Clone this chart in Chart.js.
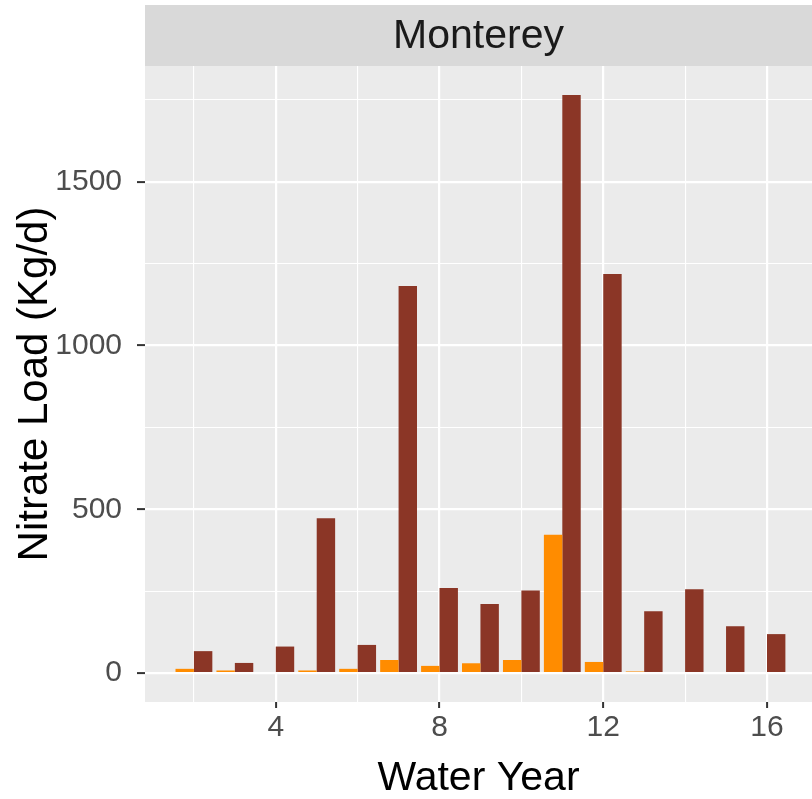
<!DOCTYPE html>
<html>
<head>
<meta charset="utf-8">
<script src="https://cdn.jsdelivr.net/npm/chart.js@4.4.1/dist/chart.umd.min.js"></script>
<style>
  body { margin: 0; background: #fff; }
  #wrap { width: 812px; height: 799px; }
</style>
</head>
<body>
<div id="wrap"><canvas id="loadChart" width="812" height="799"></canvas></div>
<script>
// Water years on the x axis
const years = [2, 3, 4, 5, 6, 7, 8, 9, 10, 11, 12, 13, 14, 15, 16];
// Orange bars (left of each pair), null = no bar
const loadOrange = [13, 8, null, 8, 13, 40, 22, 30, 40, 422, 34, 5, null, null, null];
// Dark red bars (right of each pair)
const loadRed = [67, 31, 81, 473, 86, 1182, 260, 211, 252, 1765, 1218, 189, 256, 143, 119];

// grid lines: major ones carry a label, minor ones only a thin line
const xTicks = [2, 4, 6, 8, 10, 12, 14, 16];
const xMajorTicks = [4, 8, 12, 16];
const yTicks = [0, 250, 500, 750, 1000, 1250, 1500, 1750];
const yMajorTicks = [0, 500, 1000, 1500];
const panelTitle = 'Monterey';

const tickFont = { family: "'Liberation Sans', Arial, sans-serif", size: 30 };
const titleFont = { family: "'Liberation Sans', Arial, sans-serif", size: 41, lineHeight: 1 };

// grey panel background + facet strip on top
const panelPlugin = {
    id: 'panel',
    beforeDraw(chart) {
        const { ctx, chartArea } = chart;
        ctx.save();
        ctx.fillStyle = '#EBEBEB';
        ctx.fillRect(chartArea.left, chartArea.top, chartArea.right - chartArea.left, chartArea.bottom - chartArea.top);
        ctx.fillStyle = '#D9D9D9';
        ctx.fillRect(chartArea.left, 5, chartArea.right - chartArea.left, chartArea.top - 5);
        ctx.fillStyle = '#1A1A1A';
        ctx.font = "41px 'Liberation Sans', Arial, sans-serif";
        ctx.textAlign = 'center';
        ctx.textBaseline = 'middle';
        ctx.fillText(panelTitle, (chartArea.left + chartArea.right) / 2, (5 + chartArea.top) / 2 + 1);
        ctx.restore();
    }
};

function toPairs(values) {
    return years.map((yr, i) => ({ x: yr, y: values[i] }));
}

const ctx = document.getElementById('loadChart').getContext('2d');
const chart = new Chart(ctx, {
    type: 'bar',
    data: {
        datasets: [
            {
                label: 'orange',
                data: toPairs(loadOrange),
                backgroundColor: '#FF8C00',
                categoryPercentage: 0.9,
                barPercentage: 1.0
            },
            {
                label: 'red',
                data: toPairs(loadRed),
                backgroundColor: '#8B3626',
                categoryPercentage: 0.9,
                barPercentage: 1.0
            }
        ]
    },
    options: {
        responsive: false,
        animation: false,
        layout: { padding: { top: 66, left: 0, right: 0, bottom: 0 } },
        plugins: {
            legend: { display: false },
            tooltip: { enabled: false }
        },
        scales: {
            x: {
                type: 'linear',
                offset: false,
                min: 0.805,
                max: 17.1,
                border: { display: false },
                afterBuildTicks: s => { s.ticks = xTicks.map(v => ({ value: v })); },
                grid: {
                    offset: false,
                    color: '#FFFFFF',
                    lineWidth: c => xMajorTicks.includes(c.tick.value) ? 2.2 : 1.1,
                    tickColor: c => xMajorTicks.includes(c.tick.value) ? '#333333' : 'rgba(0,0,0,0)',
                    tickWidth: 2,
                    tickLength: 6
                },
                ticks: {
                    autoSkip: false,
                    maxRotation: 0,
                    padding: 2,
                    color: '#4D4D4D',
                    font: tickFont,
                    callback: v => xMajorTicks.includes(v) ? String(v) : ''
                },
                title: {
                    display: true,
                    text: 'Water Year',
                    color: '#000000',
                    font: titleFont,
                    padding: { top: 0, bottom: 0 }
                },
                afterFit: s => { s.height = 97; }
            },
            y: {
                min: -88.25,
                max: 1853.25,
                border: { display: false },
                afterBuildTicks: s => { s.ticks = yTicks.map(v => ({ value: v })); },
                grid: {
                    color: '#FFFFFF',
                    lineWidth: c => yMajorTicks.includes(c.tick.value) ? 2.2 : 1.1,
                    tickColor: c => yMajorTicks.includes(c.tick.value) ? '#333333' : 'rgba(0,0,0,0)',
                    tickWidth: 2,
                    tickLength: 8
                },
                ticks: {
                    autoSkip: false,
                    padding: 15,
                    color: '#4D4D4D',
                    font: tickFont,
                    callback: v => yMajorTicks.includes(v) ? String(v) : ''
                },
                title: {
                    display: true,
                    text: 'Nitrate Load (Kg/d)',
                    color: '#000000',
                    font: { family: titleFont.family, size: 42, lineHeight: 1 },
                    padding: { top: 14, bottom: 0 }
                },
                afterFit: s => { s.width = 145; }
            }
        }
    },
    plugins: [panelPlugin]
});
</script>
</body>
</html>
